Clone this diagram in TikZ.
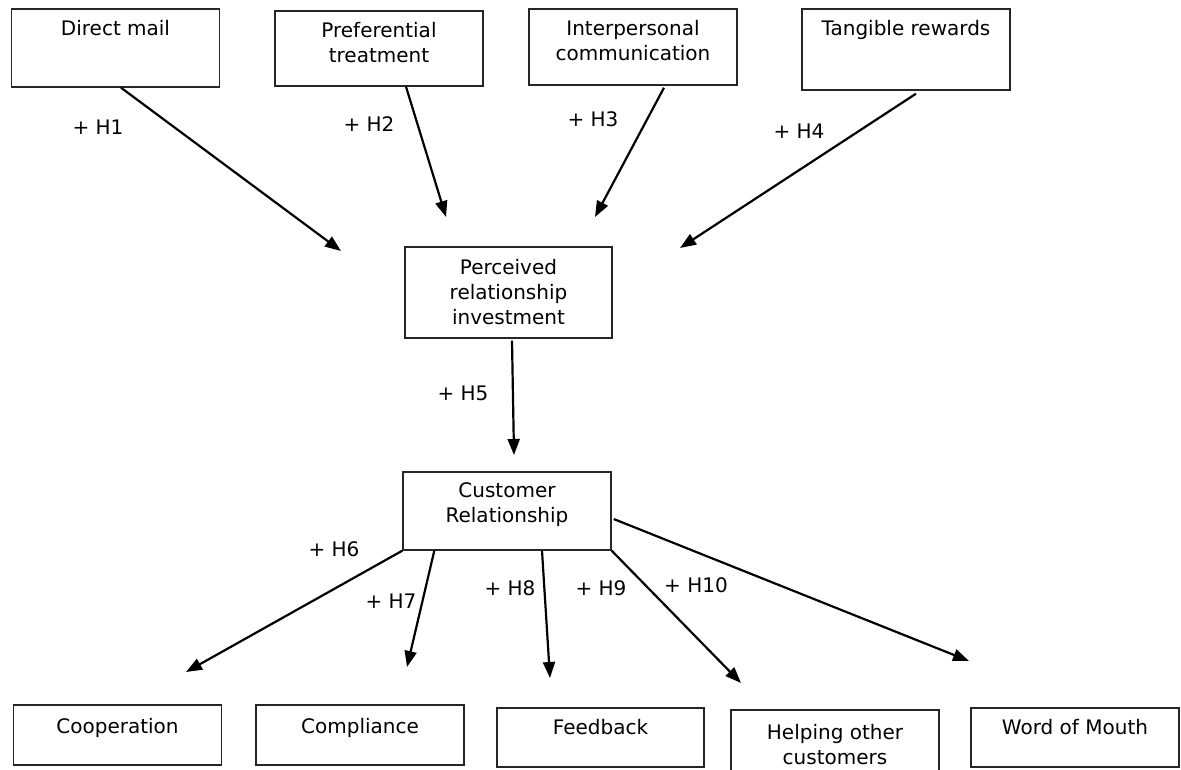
\documentclass[tikz,border=0pt]{standalone}
\usepackage{fontspec}
\setmainfont{DejaVu Sans}
\usetikzlibrary{arrows.meta}

\tikzset{
	box/.style={draw=black!85, line width=1.4pt, minimum width=208pt, inner sep=0pt},
	boxtext/.style={anchor=north, align=center, inner sep=0pt, font=\fontsize{20}{25}\selectfont},
	hyp/.style={inner sep=0pt, font=\fontsize{20}{25}\selectfont},
	link/.style={line width=2.2pt, -{Triangle[length=16pt,width=12pt]}},
}

\begin{document}
\begin{tikzpicture}[x=1pt, y=-1pt]
			%%%%% START %%%%%
			
			\useasboundingbox (0, 0) rectangle (1181, 770);
			
			\node[box, minimum height=78pt] (dm) at (115.5, 48) {};
			\node[box, minimum height=75pt] (pt) at (379, 48.5) {};
			\node[box, minimum height=76pt] (ic) at (633, 47) {};
			\node[box, minimum height=81pt] (tr) at (906, 49.5) {};
			\node[boxtext] (dmtxt) at ([yshift=-11.5pt]dm.north) {Direct mail};
			\node[boxtext] (pttxt) at ([yshift=-11.5pt]pt.north) {Preferential\\treatment};
			\node[boxtext] (ictxt) at ([yshift=-11.5pt]ic.north) {Interpersonal\\communication};
			\node[boxtext] (trtxt) at ([yshift=-11.5pt]tr.north) {Tangible rewards};
			
			\node[box, minimum width=207pt, minimum height=91pt] (pri) at (508.5, 292.5) {};
			\node[boxtext] (pritxt) at ([yshift=-12.5pt]pri.north) {Perceived\\relationship\\investment};
			
			\node[box, minimum height=78pt] (cr) at (507, 511) {};
			\node[boxtext] (crtxt) at ([yshift=-11.5pt]cr.north) {Customer\\Relationship};
			
			\node[box, minimum height=60pt] (co) at (117.5, 735) {};
			\node[box, minimum height=60pt] (cm) at (360, 735) {};
			\node[box, minimum width=207pt, minimum height=59pt] (fb) at (600.5, 737.5) {};
			\node[box, minimum height=80pt] (hoc) at (835, 750) {};
			\node[box, minimum height=59pt] (wom) at (1075, 737.5) {};
			\node[boxtext] (cotxt) at ([yshift=-14pt]co.north) {Cooperation};
			\node[boxtext] (cmtxt) at ([yshift=-14pt]cm.north) {Compliance};
			\node[boxtext] (fbtxt) at ([yshift=-12pt]fb.north) {Feedback};
			\node[boxtext] (hoctxt) at ([yshift=-14.5pt]hoc.north) {Helping other\\customers};
			\node[boxtext] (womtxt) at ([yshift=-12pt]wom.north) {Word of Mouth};
			
			\coordinate (e1) at (341, 251);
			\coordinate (e2) at (446, 217);
			\coordinate (e3) at (595, 217);
			\coordinate (e4) at (680, 248);
			\coordinate (e5) at (514, 455);
			\coordinate (e6) at (186, 672);
			\coordinate (e7) at (407, 667);
			\coordinate (e8) at (550, 678);
			\coordinate (e9) at (741, 683);
			\coordinate (e10) at (969, 661);
			
			\draw[link] ([xshift=5.5pt]dm.south) -- (e1);
			\draw[link] ([xshift=27pt]pt.south) -- (e2);
			\draw[link] ([xshift=31pt, yshift=-2pt]ic.south) -- (e3);
			\draw[link] ([xshift=10pt, yshift=-3pt]tr.south) -- (e4);
			\draw[link] ([xshift=3.5pt, yshift=-2pt]pri.south) -- (e5);
			\draw[link] (cr.south west) -- (e6);
			\draw[link] ([xshift=32pt]cr.south west) -- (e7);
			\draw[link] ([xshift=35pt]cr.south) -- (e8);
			\draw[link] (cr.south east) -- (e9);
			\draw[link] ([xshift=2pt, yshift=-8pt]cr.east) -- (e10);
			
			\node[hyp] (h1) at (98, 127) {+ H1};
			\node[hyp] (h2) at (369, 124) {+ H2};
			\node[hyp] (h3) at (593, 119) {+ H3};
			\node[hyp] (h4) at (799, 131) {+ H4};
			\node[hyp] (h5) at (463, 393) {+ H5};
			\node[hyp] (h6) at (334, 549) {+ H6};
			\node[hyp] (h7) at (391, 601) {+ H7};
			\node[hyp] (h8) at (510, 588) {+ H8};
			\node[hyp] (h9) at (601, 588) {+ H9};
			\node[hyp] (h10) at (696, 585) {+ H10};
			
			%%%%% END %%%%%
\end{tikzpicture}
\end{document}
